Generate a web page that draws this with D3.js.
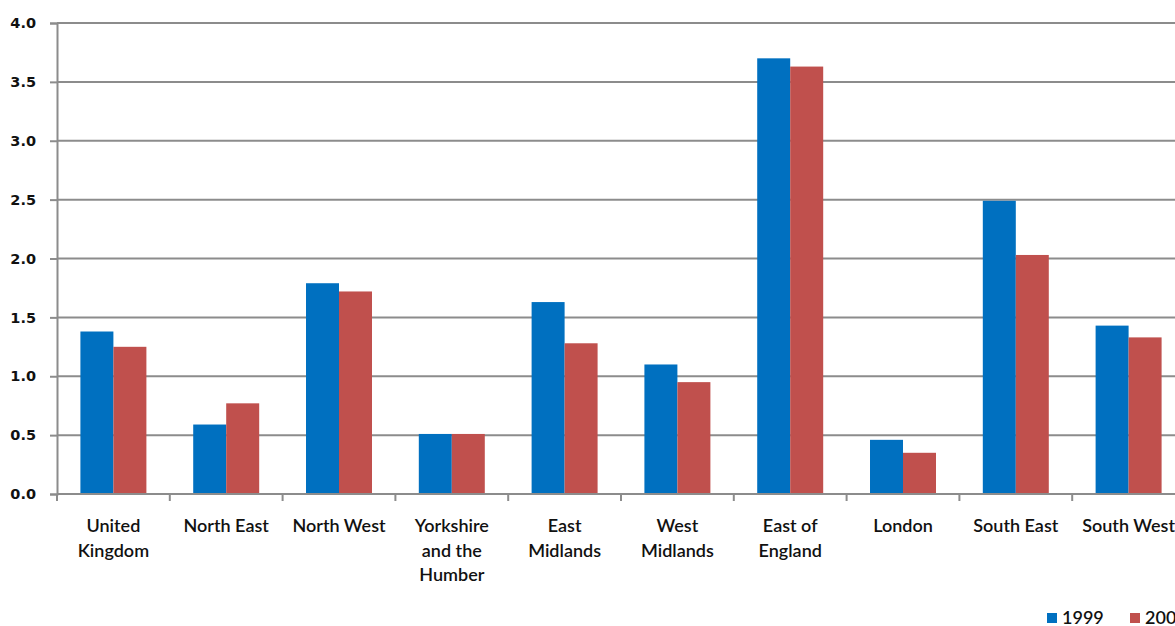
<!DOCTYPE html>
<html>
<head>
<meta charset="utf-8">
<script src="https://cdn.jsdelivr.net/npm/d3@7"></script>
<style>
  html, body { margin: 0; padding: 0; background: #fff; overflow: hidden; }
  svg { display: block; font-family: Lato, "Open Sans", sans-serif; }
</style>
</head>
<body>
<svg id="chart" width="1175" height="626"></svg>
<script>
// Regions, with the wrapped lines of each axis label
const regions = [
  ["United", "Kingdom"],
  ["North East"],
  ["North West"],
  ["Yorkshire", "and the", "Humber"],
  ["East", "Midlands"],
  ["West", "Midlands"],
  ["East of", "England"],
  ["London"],
  ["South East"],
  ["South West"]
];
const seriesNames = ["1999", "2009"];
const values1999 = [1.38, 0.59, 1.79, 0.51, 1.63, 1.10, 3.70, 0.46, 2.49, 1.43];
const values2009 = [1.25, 0.77, 1.72, 0.51, 1.28, 0.95, 3.63, 0.35, 2.03, 1.33];
const yTicks = [0, 0.5, 1.0, 1.5, 2.0, 2.5, 3.0, 3.5, 4.0];
const colors = ["#0070C0", "#C0504D"];

const svg = d3.select("#chart");
const plotLeft = 57, plotTop = 23, plotBottom = 494, plotRight = 1185;

const x = d3.scaleBand()
  .domain(d3.range(regions.length))
  .range([plotLeft, plotRight])
  .paddingInner(0.415)
  .paddingOuter(0.2075);
const xs = d3.scaleBand().domain([0, 1]).range([0, x.bandwidth()]);
const y = d3.scaleLinear().domain([0, 4]).range([plotBottom, plotTop]);

// gridlines
svg.append("g")
  .selectAll("line")
  .data(yTicks.slice(1))
  .join("line")
  .attr("x1", plotLeft).attr("x2", plotRight)
  .attr("y1", d => y(d)).attr("y2", d => y(d))
  .attr("stroke", "#8c8c8c").attr("stroke-width", 2);

// bars
const series = [values1999, values2009];
const groups = svg.append("g")
  .selectAll("g")
  .data(series)
  .join("g")
  .attr("fill", (d, i) => colors[i])
  .attr("transform", (d, i) => `translate(${xs(i)},0)`);
groups.selectAll("rect")
  .data(d => d)
  .join("rect")
  .attr("x", (d, i) => x(i))
  .attr("y", d => y(d))
  .attr("width", xs.bandwidth())
  .attr("height", d => y(0) - y(d));

// y axis
const yAxis = svg.append("g")
  .attr("transform", `translate(${plotLeft},0)`)
  .call(d3.axisLeft(y).tickValues(yTicks).tickFormat(d3.format(".1f")).tickSize(7).tickPadding(14));
yAxis.select(".domain").attr("stroke", "#8c8c8c").attr("stroke-width", 2);
yAxis.selectAll(".tick line").attr("stroke", "#8c8c8c").attr("stroke-width", 2);
yAxis.selectAll(".tick text")
  .attr("font-size", 14.5).attr("font-weight", 700).attr("fill", "#111")
  .attr("font-family", "'DejaVu Sans', sans-serif");

// x axis baseline and category ticks
const xg = svg.append("g");
xg.append("line")
  .attr("x1", plotLeft).attr("x2", plotRight)
  .attr("y1", y(0)).attr("y2", y(0))
  .attr("stroke", "#8c8c8c").attr("stroke-width", 2);
const step = x.step();
xg.selectAll("line.tick")
  .data(d3.range(regions.length + 1))
  .join("line")
  .attr("class", "tick")
  .attr("x1", i => plotLeft + i * step).attr("x2", i => plotLeft + i * step)
  .attr("y1", y(0)).attr("y2", y(0) + 7)
  .attr("stroke", "#8c8c8c").attr("stroke-width", 2);

// category labels
const labels = svg.append("g")
  .selectAll("text")
  .data(regions)
  .join("text")
  .attr("text-anchor", "middle")
  .attr("font-size", 18).attr("font-weight", 600).attr("fill", "#111")
  .attr("transform", (d, i) => `translate(${plotLeft + (i + 0.5) * step},532)`);
labels.selectAll("tspan")
  .data(d => d)
  .join("tspan")
  .attr("x", 0)
  .attr("dy", (d, j) => j === 0 ? 0 : 24.5)
  .text(d => d);

// legend
const legend = svg.append("g")
  .selectAll("g")
  .data(seriesNames)
  .join("g")
  .attr("transform", (d, i) => `translate(${1047 + i * 83},613)`);
legend.append("rect")
  .attr("width", 10).attr("height", 10)
  .attr("fill", (d, i) => colors[i]);
legend.append("text")
  .attr("x", 15).attr("y", 11)
  .attr("font-size", 18).attr("font-weight", 600).attr("fill", "#111")
  .text(d => d);
</script>
</body>
</html>
